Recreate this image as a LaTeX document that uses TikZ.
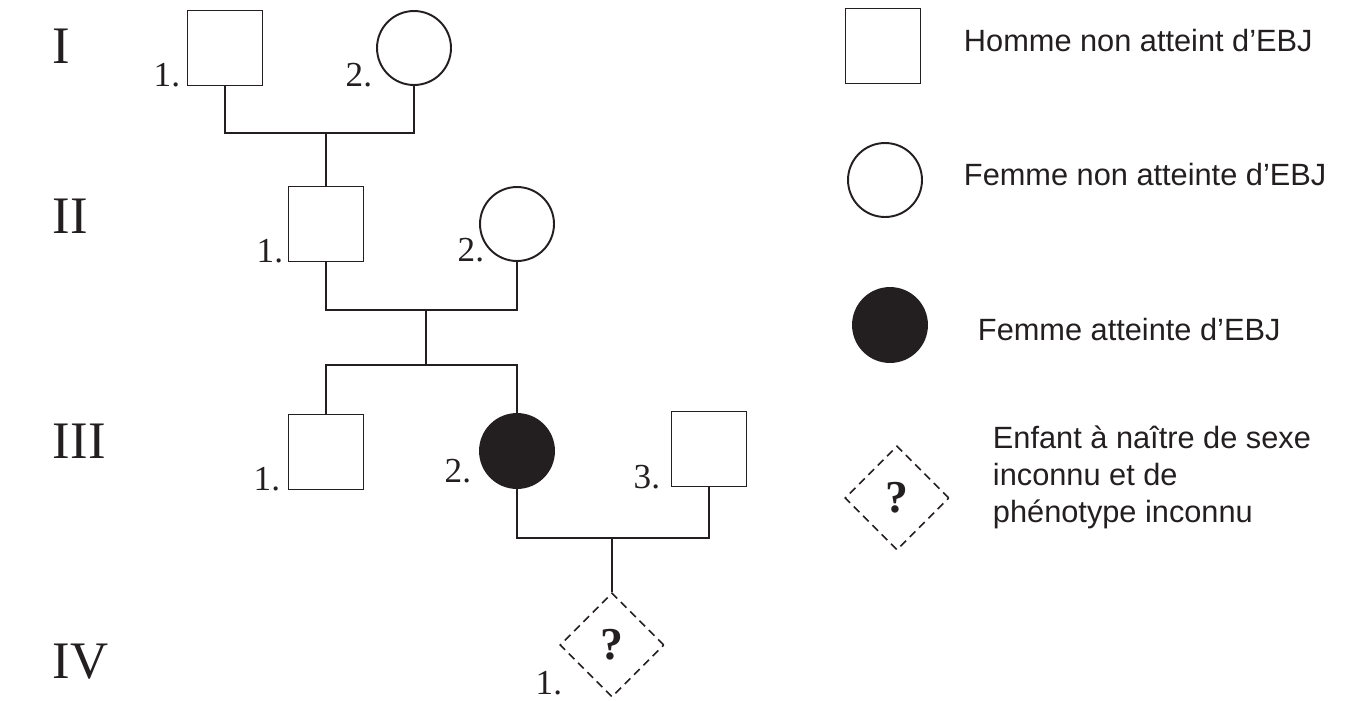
\documentclass[tikz,border=0pt]{standalone}
\usepackage{fontspec}
\setmainfont{Liberation Serif}
\newfontfamily\legendfont{Liberation Sans}
\usetikzlibrary{shapes.geometric}
\definecolor{ink}{RGB}{35,31,32}

\begin{document}
\begin{tikzpicture}[x=0.02cm,y=-0.02cm,line width=1.1pt,color=ink,
    male/.style={shape=rectangle,draw=ink,minimum size=1.5cm,inner sep=0pt},
    female/.style={shape=circle,draw=ink,minimum size=1.48cm,inner sep=0pt},
    affected/.style={female,fill=ink},
    unknown/.style={shape=diamond,draw=ink,dash pattern=on 4.5pt off 3pt,line width=0.9pt,minimum size=2.08cm,inner sep=0pt,font=\fontsize{26}{26}\selectfont\bfseries},
    gen/.style={anchor=base west,inner sep=0pt,font=\fontsize{30}{30}\selectfont},
    num/.style={anchor=base east,inner sep=0pt,font=\fontsize{20}{20}\selectfont},
    legtext/.style={anchor=base west,inner sep=0pt,align=left,font=\legendfont\fontsize{17.5}{21}\selectfont}]
        \useasboundingbox (0,0) rectangle (1361,700);

        % generations
        \node[gen] (gI) at (52,63) {I};
        \node[gen] (gII) at (52,233) {II};
        \node[gen] (gIII) at (52,458) {III};
        \node[gen] (gIV) at (52,678) {IV};

        % individuals
        \node[male] (I1) at (225,48) {};
        \node[female] (I2) at (414,48) {};
        \node[male] (II1) at (326,224) {};
        \node[female] (II2) at (517,224) {};
        \node[male] (III1) at (326,452) {};
        \node[affected] (III2) at (517,451) {};
        \node[male] (III3) at (709,449) {};
        \node[unknown] (IV1) at (612,645) {?};

        \node[num] (nI1) at (181,86) {1.};
        \node[num] (nI2) at (373,86) {2.};
        \node[num] (nII1) at (284,262) {1.};
        \node[num] (nII2) at (485,261) {2.};
        \node[num] (nIII1) at (281,490) {1.};
        \node[num] (nIII2) at (472,482) {2.};
        \node[num] (nIII3) at (661,488) {3.};
        \node[num] (nIV1) at (563,694) {1.};

        % lines
        \coordinate (c1) at (326,133);
        \coordinate (c2) at (426,310);
        \coordinate (c3) at (426,365);
        \coordinate (c4) at (612,538);
        \draw (I1) |- (c1) -| (I2);
        \draw (c1) -- (II1);
        \draw (II1) |- (c2) -| (II2);
        \draw (c2) -- (c3);
        \draw (III1) |- (c3) -| (III2);
        \draw (III2) |- (c4) -| (III3);
        \draw (c4) -- (IV1);

        % legend
        \node[male] (Lmale) at (883,46) {};
        \node[female] (Lfemale) at (885,180) {};
        \node[affected] (Laff) at (890,325) {};
        \node[unknown] (Lunk) at (897,498) {?};
        \node[legtext] (tmale) at (963,51) {Homme non atteint d’EBJ};
        \node[legtext] (tfemale) at (963,185) {Femme non atteinte d’EBJ};
        \node[legtext] (taff) at (977,340) {Femme atteinte d’EBJ};
        \node[legtext] (tunk) at (992,522) {Enfant à naître de sexe\\inconnu et de\\phénotype inconnu};
    \end{tikzpicture}
\end{document}
